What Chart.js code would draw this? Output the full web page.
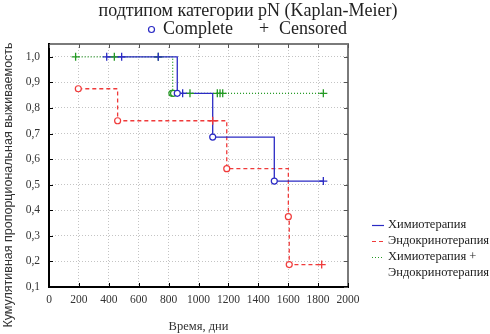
<!DOCTYPE html>
<html>
<head>
<meta charset="utf-8">
<script src="https://cdn.jsdelivr.net/npm/chart.js@4.4.1/dist/chart.umd.min.js"></script>
<style>
html,body{margin:0;padding:0;background:#fff;}
#wrap{width:490px;height:334px;}
</style>
</head>
<body>
<div id="wrap"><canvas id="c" width="490" height="334"></canvas></div>
<script>
// ---- data ----
const titleText = 'подтипом категории pN (Kaplan-Meier)';
const legendLabels = ['Химиотерапия', 'Эндокринотерапия', ['Химиотерапия +', 'Эндокринотерапия']];
const xTicks = [0, 200, 400, 600, 800, 1000, 1200, 1400, 1600, 1800, 2000];
const yTicks = [0.1, 0.2, 0.3, 0.4, 0.5, 0.6, 0.7, 0.8, 0.9, 1.0];

// Химиотерапия (blue)
const chemoTimes = [386, 858, 1095, 1507, 1835];
const chemoSurv = [1.0, 0.857, 0.686, 0.514, 0.514];
const chemoCompleteT = [858, 1095, 1507];
const chemoCompleteS = [0.857, 0.686, 0.514];
const chemoCensT = [386, 486, 731, 894, 1835];
const chemoCensS = [1.0, 1.0, 1.0, 0.857, 0.514];

// Эндокринотерапия (red)
const endoTimes = [196, 459, 1189, 1601, 1607, 1824];
const endoSurv = [0.875, 0.75, 0.5625, 0.375, 0.1875, 0.1875];
const endoCompleteT = [196, 459, 1189, 1601, 1607];
const endoCompleteS = [0.875, 0.75, 0.5625, 0.375, 0.1875];
const endoCensT = [1095, 1824];
const endoCensS = [0.75, 0.1875];

// Химиотерапия + Эндокринотерапия (green)
const comboTimes = [178, 827, 1835];
const comboSurv = [1.0, 0.857, 0.857];
const comboCompleteT = [822, 833];
const comboCompleteS = [0.857, 0.857];
const comboCensT = [178, 437, 731, 943, 1126, 1144, 1162, 1835];
const comboCensS = [1.0, 1.0, 1.0, 0.857, 0.857, 0.857, 0.857, 0.857];

// ---- styles ----
const BLUE = '#2b2bc4';
const RED = '#f03a3a';
const GREEN = '#249a24';
const SERIF = '"Liberation Serif", "DejaVu Serif", serif';
const SANS = '"Liberation Sans", Arial, sans-serif';

const pts = (t, s) => t.map((x, i) => ({x: x, y: s[i]}));

function lineDs(label, t, s, color, dash, order) {
  return {label, data: pts(t, s), borderColor: color, borderWidth: 1.3, borderDash: dash,
    stepped: 'before', pointRadius: 0, fill: false, order, isLegend: true};
}
function compDs(t, s, color) {
  return {label: '_c', data: pts(t, s), showLine: false, pointStyle: 'circle', pointRadius: 3,
    pointBorderWidth: 1.2, pointBorderColor: color, pointBackgroundColor: '#fff', order: 0};
}
function censDs(t, s, color) {
  return {label: '_p', data: pts(t, s), showLine: false, pointStyle: 'cross', pointRadius: 4,
    pointBorderWidth: 1.3, pointBorderColor: color, order: 0};
}

const datasets = [
  lineDs('Химиотерапия', chemoTimes, chemoSurv, BLUE, [], 2),
  lineDs('Эндокринотерапия', endoTimes, endoSurv, RED, [4, 3], 3),
  lineDs('Химиотерапия + Эндокринотерапия', comboTimes, comboSurv, GREEN, [1, 2], 4),
  compDs(chemoCompleteT, chemoCompleteS, BLUE),
  censDs(chemoCensT, chemoCensS, BLUE),
  compDs(endoCompleteT, endoCompleteS, RED),
  censDs(endoCensT, endoCensS, RED),
  compDs(comboCompleteT, comboCompleteS, GREEN),
  censDs(comboCensT, comboCensS, GREEN)
];

const decor = {
  id: 'decor',
  beforeDatasetsDraw(chart) {
    const {ctx, chartArea: a, scales} = chart;
    ctx.save();
    ctx.lineWidth = 2;
    ctx.strokeStyle = '#7a7a7a';
    ctx.beginPath();
    ctx.moveTo(a.left, a.top); ctx.lineTo(a.right, a.top); ctx.lineTo(a.right, a.bottom);
    ctx.stroke();
    ctx.strokeStyle = '#000';
    ctx.beginPath();
    ctx.moveTo(a.left, a.top - 1); ctx.lineTo(a.left, a.bottom); ctx.lineTo(a.right + 1, a.bottom);
    ctx.stroke();
    ctx.lineWidth = 1;
    xTicks.forEach(v => {
      const x = Math.round(scales.x.getPixelForValue(v)) + 0.5;
      ctx.strokeStyle = '#555';
      ctx.beginPath(); ctx.moveTo(x, a.top); ctx.lineTo(x, a.top + 4); ctx.stroke();
      ctx.strokeStyle = '#000';
      ctx.beginPath(); ctx.moveTo(x, a.bottom); ctx.lineTo(x, a.bottom - 4); ctx.stroke();
    });
    yTicks.forEach(v => {
      const y = Math.round(scales.y.getPixelForValue(v)) + 0.5;
      ctx.strokeStyle = '#555';
      ctx.beginPath(); ctx.moveTo(a.right, y); ctx.lineTo(a.right - 4, y); ctx.stroke();
      ctx.strokeStyle = '#000';
      ctx.beginPath(); ctx.moveTo(a.left, y); ctx.lineTo(a.left + 4, y); ctx.stroke();
    });
    ctx.restore();
  },
  afterDraw(chart) {
    const {ctx} = chart;
    ctx.save();
    ctx.fillStyle = '#222';
    ctx.font = '18px ' + SERIF;
    ctx.textAlign = 'center';
    ctx.textBaseline = 'alphabetic';
    ctx.fillText(titleText, 248, 16);
    ctx.strokeStyle = BLUE;
    ctx.lineWidth = 1.2;
    ctx.beginPath(); ctx.arc(151.5, 29.5, 3, 0, Math.PI * 2); ctx.stroke();
    ctx.textAlign = 'left';
    ctx.fillText('Complete', 163, 34);
    ctx.textAlign = 'center';
    ctx.fillText('+', 264, 34);
    ctx.textAlign = 'left';
    ctx.fillText('Censored', 279, 34);
    ctx.save();
    ctx.translate(9, 185);
    ctx.rotate(-Math.PI / 2);
    ctx.font = '12.5px ' + SANS;
    ctx.textAlign = 'center';
    ctx.textBaseline = 'middle';
    ctx.fillStyle = '#333';
    ctx.fillText('Кумулятивная пропорциональная выживаемость', 0, 0);
    ctx.restore();
    const rows = [225, 241, 257];
    const lineDsets = chart.data.datasets.filter(d => d.isLegend);
    ctx.font = '12.5px ' + SERIF;
    ctx.textBaseline = 'middle';
    ctx.textAlign = 'left';
    lineDsets.forEach((d, i) => {
      const y = rows[i] + 0.5;
      ctx.strokeStyle = d.borderColor;
      ctx.lineWidth = 1.2;
      ctx.setLineDash(d.borderDash || []);
      ctx.beginPath(); ctx.moveTo(372, y); ctx.lineTo(384, y); ctx.stroke();
      ctx.setLineDash([]);
      ctx.fillStyle = '#222';
      const lab = legendLabels[i];
      if (Array.isArray(lab)) {
        lab.forEach((l, j) => ctx.fillText(l, 388, rows[i] + j * 16));
      } else {
        ctx.fillText(lab, 388, rows[i]);
      }
    });
    ctx.restore();
  }
};

new Chart(document.getElementById('c'), {
  type: 'line',
  data: {datasets},
  options: {
    responsive: false,
    animation: false,
    devicePixelRatio: 1,
    layout: {padding: {top: 44, right: 142, left: 0, bottom: 0}},
    plugins: {legend: {display: false}, title: {display: false}, tooltip: {enabled: false}},
    scales: {
      x: {
        type: 'linear', min: 0, max: 2000,
        afterBuildTicks: s => { s.ticks = xTicks.map(v => ({value: v})); },
        afterFit: s => { s.height = 47; },
        grid: {color: '#c4c4c4', lineWidth: 1, drawTicks: false},
        border: {display: false, dash: [1, 2]},
        ticks: {font: {family: SERIF, size: 11.5}, color: '#333', padding: 6, maxRotation: 0, autoSkip: false,
          callback: v => String(v)},
        title: {display: true, text: 'Время, дни', font: {family: SERIF, size: 12.5}, color: '#333', padding: {top: 12, bottom: 0}}
      },
      y: {
        type: 'linear', min: 0.1, max: 1.05,
        afterBuildTicks: s => { s.ticks = yTicks.map(v => ({value: v})); },
        afterFit: s => { s.width = 49; },
        grid: {color: '#c4c4c4', lineWidth: 1, drawTicks: false},
        border: {display: false, dash: [1, 2]},
        ticks: {font: {family: SERIF, size: 11.5}, color: '#333', padding: 9,
          callback: v => v.toFixed(1).replace('.', ',')}
      }
    }
  },
  plugins: [decor]
});
</script>
</body>
</html>
